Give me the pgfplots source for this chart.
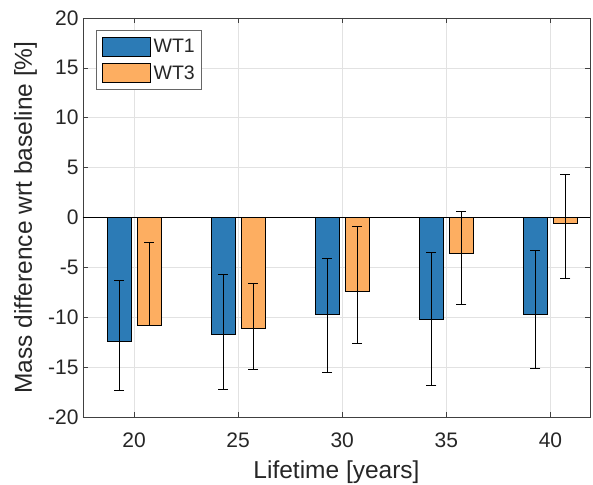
\documentclass[border=0pt]{standalone}
\usepackage{pgfplots}
\pgfplotsset{compat=1.18}
\usepackage{fontspec}
\setmainfont{Liberation Sans}
\definecolor{cA}{HTML}{2C7BB6}
\definecolor{cB}{HTML}{FDAE61}
\definecolor{gridc}{RGB}{226,226,226}
\begin{document}
\begin{tikzpicture}
\useasboundingbox (-83pt,-67pt) rectangle (510pt,417pt);
\begin{axis}[
  at={(0pt,0pt)}, anchor=south west,
  scale only axis, width=507pt, height=399pt,
  xmin=17.55, xmax=41.9, ymin=-20, ymax=20,
  xtick={20,25,30,35,40}, ytick={-20,-15,...,20},
  grid=major, major grid style={gridc, line width=0.6pt},
  tick align=inside, major tick length=5pt,
  tick style={black!75, line width=0.6pt},
  axis line style={black!75, line width=0.6pt},
  /pgf/number format/assume math mode=true,
  tick label style={font=\fontsize{21}{23}\selectfont, text=black!85},
  label style={font=\fontsize{24.5}{27}\selectfont, text=black!85},
  xlabel={Lifetime [years]}, ylabel={Mass difference wrt baseline [\%]},
  xlabel style={at={([yshift=-61pt]axis description cs:0.5,0)}, anchor=base},
  ylabel style={at={([xshift=-51pt]axis description cs:0,0.5)}, anchor=base},
  xticklabel style={anchor=base, yshift=-30pt},
  yticklabel style={xshift=-1pt},
  legend style={at={(0.025,0.97)}, anchor=north west, draw=black!60, line width=0.6pt,
    font=\fontsize{19.5}{21}\selectfont, text=black!85,
    inner xsep=6.5pt, inner ysep=6.3pt, row sep=7pt, column sep=3pt,
    nodes={inner sep=0pt}},
  legend cell align=left,
  legend image code/.code={\draw[#1] (0pt,-9.5pt) rectangle (47.6pt,9.5pt);},
]
\addplot[ybar, bar width=1.15, bar shift=0pt, fill=cA, draw=black, line width=0.6pt,
  error bars/.cd, y dir=both, y explicit,
  error bar style={black, line width=0.7pt}, error mark options={rotate=90, mark size=5pt, line width=0.9pt}]
  table[x=x, y=y, y error plus=ep, y error minus=em] {
  x      y       ep     em
  19.28  -12.46  6.16   4.84
  24.28  -11.70  6.02   5.50
  29.28  -9.66   5.52   5.91
  34.28  -10.16  6.69   6.68
  39.28  -9.66   6.39   5.48
};
\addlegendentry{WT1}
\addplot[ybar, bar width=1.15, bar shift=0pt, fill=cB, draw=black, line width=0.6pt,
  error bars/.cd, y dir=both, y explicit,
  error bar style={black, line width=0.7pt}, error mark options={rotate=90, mark size=5pt, line width=0.9pt}]
  table[x=x, y=y, y error plus=ep, y error minus=em] {
  x      y       ep     em
  20.72  -10.80  8.33   0.02
  25.72  -11.06  4.46   4.14
  30.72  -7.38   6.48   5.25
  35.72  -3.54   4.18   5.15
  40.72  -0.60   4.88   5.48
};
\addlegendentry{WT3}
\addplot[black, line width=0.7pt, forget plot] coordinates {(17.55,0) (41.9,0)};
\end{axis}
\end{tikzpicture}
\end{document}
